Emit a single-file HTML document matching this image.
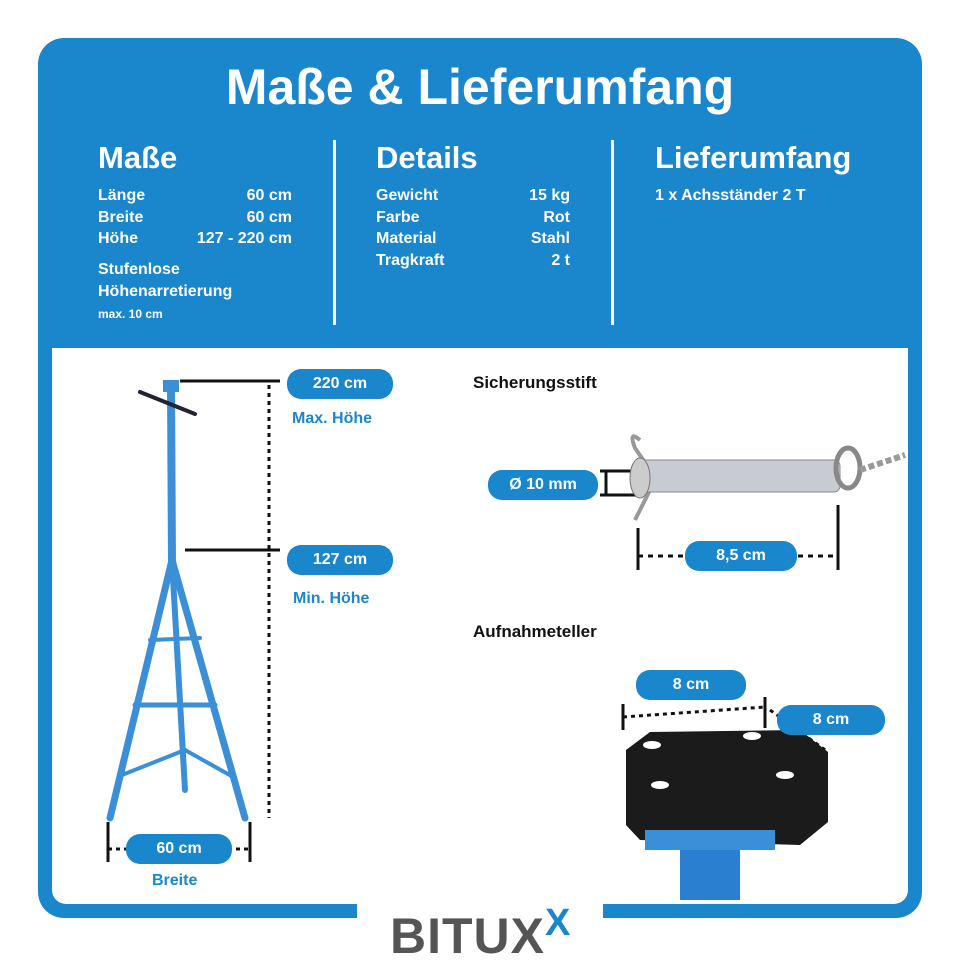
<!DOCTYPE html>
<html><head><meta charset="utf-8"><style>
body{margin:0;width:960px;height:960px;background:#fff;position:relative;overflow:hidden;font-family:"Liberation Sans",sans-serif;font-weight:bold}
.a{position:absolute}
.w{color:#fff}
.pill{position:absolute;background:#1a87cc;color:#fff;border-radius:14px;text-align:center;font-size:16px;line-height:30px;height:30px}
.lbl{position:absolute;color:#1a87cc;font-size:16px}
.row{display:flex;justify-content:space-between;font-size:16px;line-height:21.5px;color:#fff}
</style></head><body>
<div class="a" style="left:38px;top:38px;width:884px;height:880px;background:#1a87cc;border-radius:26px"></div>
<div class="a" style="left:52px;top:348px;width:856px;height:556px;background:#fff;border-radius:0 0 14px 14px"></div>
<div class="a" style="left:357px;top:900px;width:246px;height:30px;background:#fff"></div>
<div class="a w" style="left:0;width:960px;top:58px;text-align:center;font-size:50px">Maße &amp; Lieferumfang</div>
<div class="a w" style="left:98px;top:140px;font-size:31px">Maße</div>
<div class="a" style="left:98px;top:185px;width:194px">
<div class="row"><span>Länge</span><span>60 cm</span></div>
<div class="row"><span>Breite</span><span>60 cm</span></div>
<div class="row"><span>Höhe</span><span>127 - 220 cm</span></div>
<div class="w" style="font-size:16px;line-height:22px;margin-top:9px">Stufenlose<br>Höhenarretierung</div>
<div class="w" style="font-size:12px;margin-top:4px">max. 10 cm</div></div>
<div class="a" style="left:333px;top:140px;width:3px;height:185px;background:#fff"></div>
<div class="a" style="left:611px;top:140px;width:3px;height:185px;background:#fff"></div>
<div class="a w" style="left:376px;top:140px;font-size:31px">Details</div>
<div class="a" style="left:376px;top:185px;width:194px">
<div class="row"><span>Gewicht</span><span>15 kg</span></div>
<div class="row"><span>Farbe</span><span>Rot</span></div>
<div class="row"><span>Material</span><span>Stahl</span></div>
<div class="row"><span>Tragkraft</span><span>2 t</span></div></div>
<div class="a w" style="left:655px;top:140px;font-size:31px">Lieferumfang</div>
<div class="a w" style="left:655px;top:187px;font-size:16px">1 x Achsständer 2 T</div>

<svg class="a" style="left:0;top:0" width="960" height="960">
<g stroke="#3b8fd6" stroke-linecap="round" fill="none">
<line x1="171" y1="385" x2="172" y2="565" stroke-width="8"/>
<line x1="140" y1="392" x2="195" y2="414" stroke-width="4" stroke="#223"/>
<rect x="163" y="380" width="16" height="12" fill="#3b8fd6" stroke="none"/>
<line x1="172" y1="560" x2="110" y2="818" stroke-width="7"/>
<line x1="172" y1="560" x2="245" y2="818" stroke-width="7"/>
<line x1="172" y1="560" x2="185" y2="790" stroke-width="6"/>
<line x1="150" y1="640" x2="200" y2="638" stroke-width="4"/>
<line x1="135" y1="705" x2="215" y2="705" stroke-width="5"/>
<line x1="122" y1="775" x2="185" y2="750" stroke-width="4"/>
<line x1="185" y1="750" x2="235" y2="778" stroke-width="4"/>
</g>
<g stroke="#111" stroke-width="3" fill="none">
<line x1="180" y1="381" x2="280" y2="381"/>
<line x1="269" y1="385" x2="269" y2="818" stroke-dasharray="4 4"/>
<line x1="185" y1="550" x2="280" y2="550"/>
<line x1="108" y1="822" x2="108" y2="862"/><line x1="250" y1="822" x2="250" y2="862"/>
<line x1="108" y1="849" x2="250" y2="849" stroke-dasharray="4 4"/>
<line x1="600" y1="471" x2="640" y2="471"/><line x1="600" y1="495" x2="640" y2="495"/>
<line x1="606" y1="471" x2="606" y2="495"/>
<line x1="638" y1="528" x2="638" y2="570"/><line x1="838" y1="505" x2="838" y2="570"/>
<line x1="638" y1="556" x2="838" y2="556" stroke-dasharray="5 5"/>
<line x1="623" y1="704" x2="623" y2="730"/><line x1="765" y1="697" x2="765" y2="728"/>
<line x1="623" y1="717" x2="765" y2="707" stroke-dasharray="4 4"/>
<line x1="770" y1="710" x2="828" y2="752" stroke-dasharray="4 4"/>
</g>
<path d="M640 440 Q628 430 635 448 L650 470 M650 490 L635 520" stroke="#999" stroke-width="4" fill="none"/>
<rect x="640" y="460" width="200" height="32" rx="6" fill="#c8ccd2" stroke="#888"/>
<ellipse cx="640" cy="478" rx="10" ry="20" fill="#ccc" stroke="#777"/>
<ellipse cx="848" cy="468" rx="12" ry="20" fill="none" stroke="#888" stroke-width="5"/>
<path d="M860 470 L905 455" stroke="#999" stroke-width="6" stroke-dasharray="6 3"/>
<path d="M626 750 L650 732 L800 730 L828 752 L828 822 L800 845 L640 840 L626 825Z" fill="#1b1b1b"/>
<rect x="645" y="830" width="130" height="20" fill="#3b8fd6"/>
<rect x="680" y="850" width="60" height="50" fill="#2a7fd0"/>
<ellipse cx="652" cy="745" rx="9" ry="4" fill="#fff"/><ellipse cx="752" cy="736" rx="9" ry="4" fill="#fff"/>
<ellipse cx="660" cy="785" rx="9" ry="4" fill="#fff"/><ellipse cx="785" cy="775" rx="9" ry="4" fill="#fff"/>
</svg>
<div class="pill" style="left:287px;top:369px;width:106px">220 cm</div>
<div class="lbl" style="left:292px;top:410px">Max. Höhe</div>
<div class="pill" style="left:287px;top:545px;width:106px">127 cm</div>
<div class="lbl" style="left:293px;top:590px">Min. Höhe</div>
<div class="pill" style="left:126px;top:834px;width:106px">60 cm</div>
<div class="lbl" style="left:152px;top:872px">Breite</div>
<div class="a" style="left:473px;top:373px;font-size:17px;color:#111">Sicherungsstift</div>
<div class="pill" style="left:488px;top:470px;width:110px">Ø 10 mm</div>
<div class="pill" style="left:685px;top:541px;width:112px">8,5 cm</div>
<div class="a" style="left:473px;top:622px;font-size:17px;color:#111">Aufnahmeteller</div>
<div class="pill" style="left:636px;top:670px;width:110px">8 cm</div>
<div class="pill" style="left:777px;top:705px;width:108px">8 cm</div>
<div class="a" style="left:390px;top:898px;font-size:50px;color:#555;letter-spacing:1px;line-height:50px">BITUX<span style="color:#1a87cc;font-size:38px;vertical-align:18px">X</span></div>
</body></html>
